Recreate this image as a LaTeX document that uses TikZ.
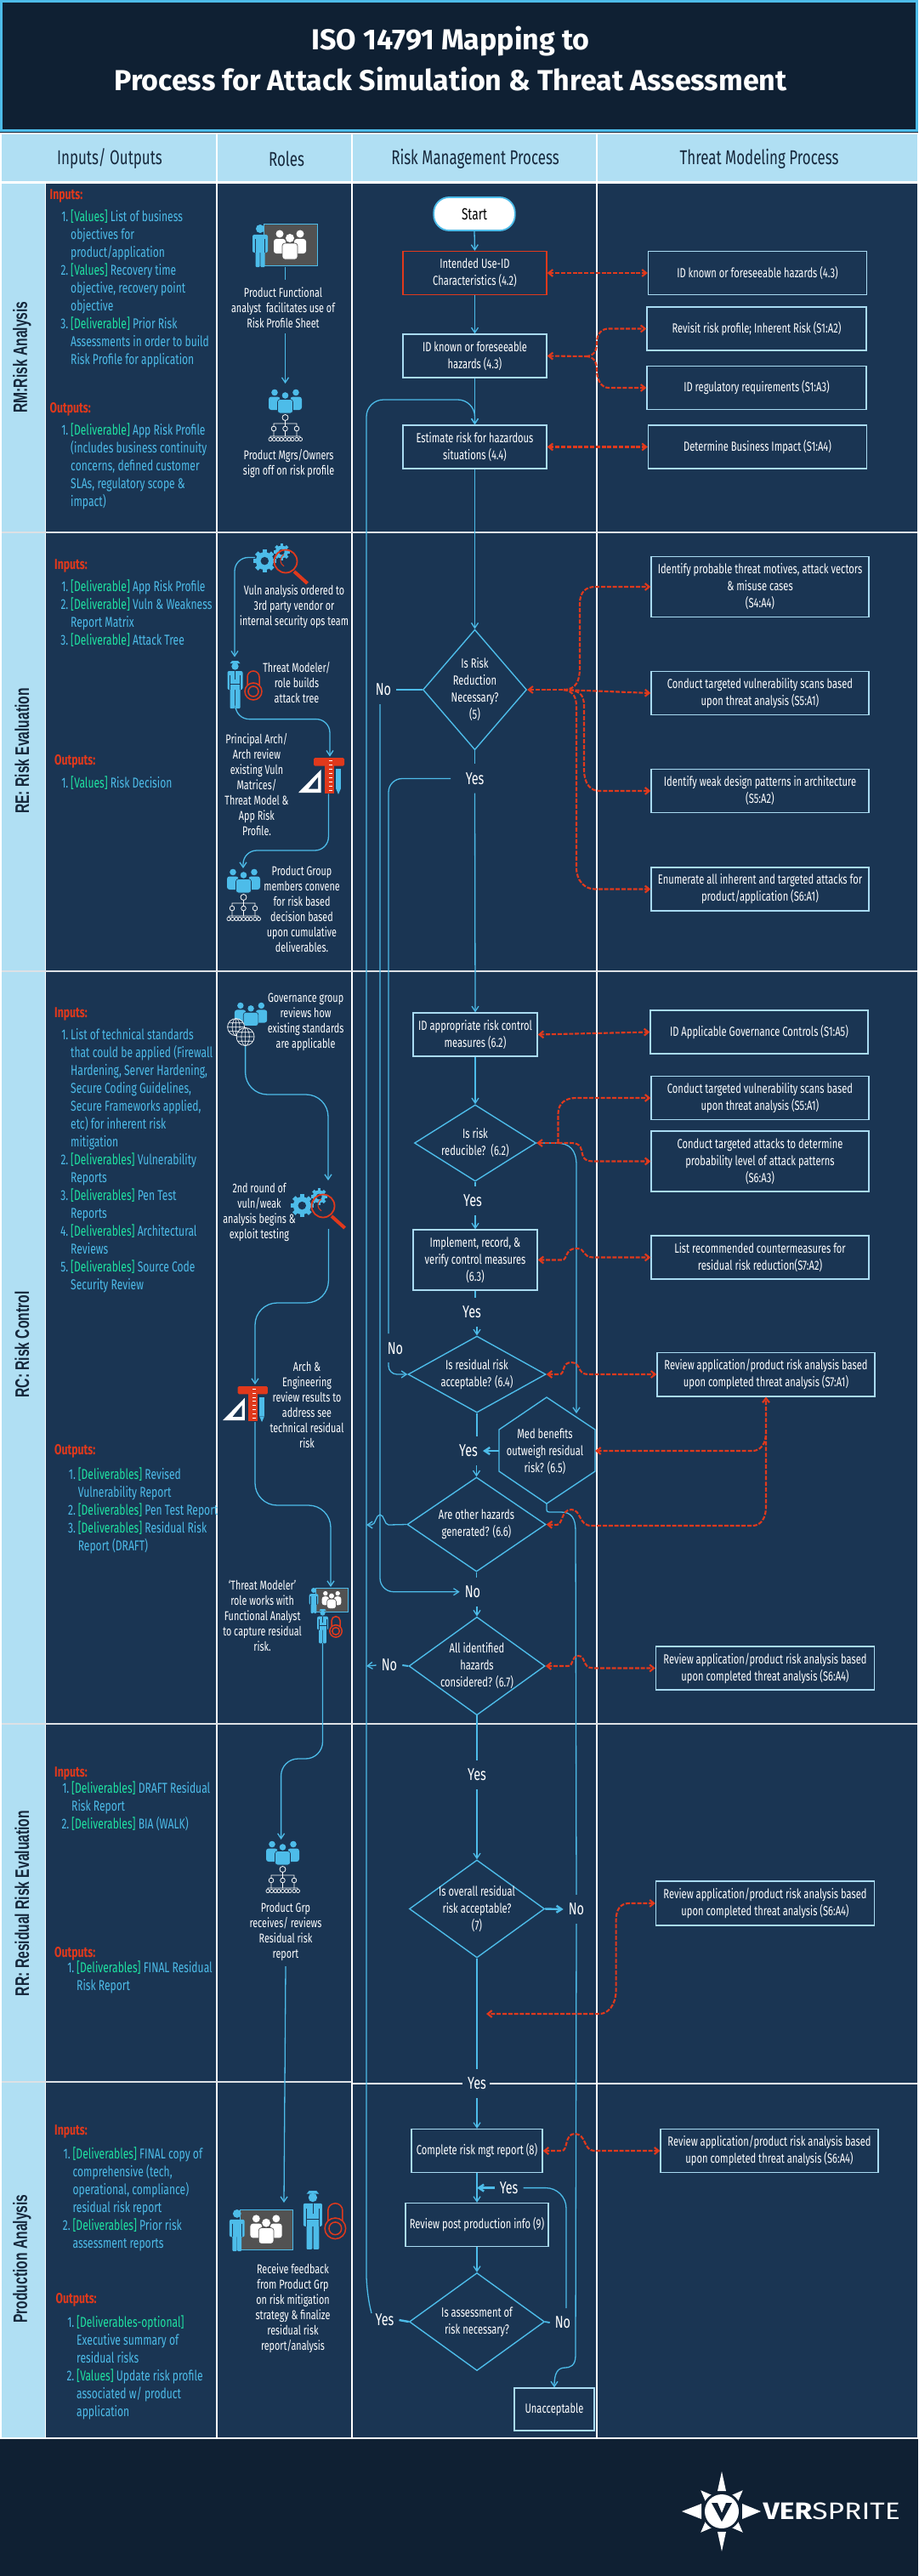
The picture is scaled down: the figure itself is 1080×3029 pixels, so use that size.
\documentclass[tikz,border=0pt]{standalone}
\usepackage{fontspec}
\setmainfont[FakeStretch=0.72]{Fira Sans}
\newfontfamily\rotf[FakeStretch=0.68]{Liberation Sans}
\newfontfamily\titlef[FakeStretch=1.0]{Fira Sans}
\newfontfamily\logof[FakeStretch=1.2]{Fira Sans}
\usetikzlibrary{arrows.meta,shapes.geometric}
\definecolor{bgd}{HTML}{1A3553}
\definecolor{dk}{HTML}{0F2033}
\definecolor{hdr}{HTML}{B0DFF3}
\definecolor{lb}{HTML}{4DBCE9}
\definecolor{bx}{HTML}{A9DBF2}
\definecolor{rd}{HTML}{E0391C}
\definecolor{gr}{HTML}{1FE3A2}
\definecolor{ink}{HTML}{16283C}
\newcommand\gn[1]{{\color{gr}#1}}
\newcommand\numl[1]{\llap{#1\,}}
\newcounter{tnc}
\newcommand\tx[4]{\stepcounter{tnc}\node[#1] (t\arabic{tnc}) at (#2,#3) {#4};}
\tikzset{
 pbox/.style={draw=bx,line width=1.3pt,align=center,text=white,inner sep=0pt,font=\fontsize{15.5}{20}\selectfont},
 dia/.style={diamond,draw=lb,line width=1.4pt,inner sep=0pt,aspect=1},
 dtext/.style={align=center,text=white,inner sep=0pt,font=\fontsize{15.5}{20}\selectfont},
 lab/.style={text=white,inner xsep=6pt,inner ysep=0pt,minimum height=34pt,font=\fontsize{20}{20}\selectfont},
 listt/.style={anchor=west,align=left,text=lb,inner sep=0pt,font=\fontsize{16.8}{21}\selectfont},
 hd/.style={text=rd,anchor=west,inner sep=0pt,font=\bfseries\fontsize{17}{21}\selectfont},
 rolet/.style={align=center,text=white,inner sep=0pt,font=\fontsize{15}{18}\selectfont},
 coltitle/.style={text=ink,inner sep=0pt,font=\fontsize{23.5}{24}\selectfont},
 rowtitle/.style={rotate=90,text=ink,inner sep=0pt,font=\rotf\bfseries\fontsize{23}{24}\selectfont},
 flown/.style={draw=lb,line width=1.3pt,rounded corners=16pt},
 flow/.style={flown,-{Straight Barb[length=6pt,width=8pt]}},
 flowt/.style={flow,line width=2.4pt},
 rdl/.style={draw=rd,line width=2.1pt,dash pattern=on 5pt off 1.8pt},
 rdb/.style={rdl,{Straight Barb[length=5pt,width=8pt]}-{Straight Barb[length=5pt,width=8pt]}},
 rde/.style={rdl,-{Straight Barb[length=5pt,width=8pt]}},
 rds/.style={rdl,{Straight Barb[length=5pt,width=8pt]}-},
}
\newcommand\personI[4]{\begin{scope}[shift={(#1,#2)},scale=#3]
 \fill[#4] (10,5) circle (5);
 \fill[#4,rounded corners=2pt] (1,12) rectangle (19,33);
 \fill[#4,rounded corners=1pt] (4.5,28) rectangle (9.7,50);
 \fill[#4,rounded corners=1pt] (10.3,28) rectangle (15.5,50);
 \draw[bgd,line width=.5pt] (4.5,17)--(4.5,33) (15.5,17)--(15.5,33);
\end{scope}}
\newcommand\presI[3]{\begin{scope}[shift={(#1,#2)},scale=#3]
 \filldraw[fill=black!68,draw=lb,line width=1pt] (14,0) rectangle (77,48);
 \fill[white] (33,11) circle (4.5) (57,11) circle (4.5) (45,16) circle (5);
 \fill[white,rounded corners=3pt] (26,17) rectangle (40,34) (50,17) rectangle (64,34);
 \filldraw[fill=white,draw=black!68,rounded corners=3pt,line width=.7pt] (36,22) rectangle (54,41);
\end{scope}\personI{#1}{#2}{#3}{lb}}
\newcommand\peopleI[3]{\begin{scope}[shift={(#1,#2)},scale=#3]
 \fill[lb] (8,3.5) circle (3.8) (33,3.5) circle (3.8) (20.5,7) circle (3.8);
 \fill[lb,rounded corners=3pt] (1,8.5) rectangle (14.5,24) (26.5,8.5) rectangle (40,24);
 \filldraw[fill=lb,draw=bgd,rounded corners=3pt,line width=.6pt] (11.5,11.5) rectangle (29.5,28);
\end{scope}}
\newcommand\orgI[3]{\peopleI{#1}{#2}{#3}\begin{scope}[shift={(#1,#2)},scale=#3]
 \draw[white,line width=.8pt] (20.5,33) circle (3.5) (20.5,36.5)--(20.5,40) (7,43)--(7,40)--(34,40)--(34,43) (20.5,40)--(20.5,43)
  (7,46) circle (2.8) (20.5,46) circle (2.8) (34,46) circle (2.8)
  (7,48.8)--(7,55) (20.5,48.8)--(20.5,55) (34,48.8)--(34,55)
  (3,56)--(3,55)--(38,55)--(38,56);
 \foreach \q in {3,7.5,12,16,20.5,25,29,34,38.5}{\draw[white,line width=.7pt] (\q,58.5) circle (2.1);}
\end{scope}}
\newcommand\gearI[3]{\begin{scope}[shift={(#1,#2)},scale=#3]
 \foreach \a in {0,45,90,135}{\fill[lb,rotate=\a] (-.24,-1.28) rectangle (.24,1.28);}
 \fill[lb] (0,0) circle (1);\fill[bgd] (0,0) circle (.45);
\end{scope}}
\newcommand\vulnI[2]{\begin{scope}[shift={(#1,#2)}]
 \gearI{13.3}{21.6}{10.5}\gearI{33.3}{11}{7.5}
 \draw[rd,line width=1.8pt] (38,22) circle (13.5);
 \draw[rd,line width=1pt] (36,14) arc[start angle=240,end angle=120,radius=8];
 \draw[rd,line width=4pt] (48,34)--(63.6,48);
\end{scope}}
\newcommand\copI[3]{\begin{scope}[shift={(#1,#2)},scale=#3]
 \fill[lb] (10.5,6.5) circle (4.2);
 \fill[lb] (4.5,3) -- (7,0) -- (14,0) -- (16.5,3) -- cycle;
 \fill[lb,rounded corners=2pt] (1.5,12) rectangle (19.5,34);
 \fill[lb,rounded corners=1pt] (4.5,30) rectangle (10,56) (11,30) rectangle (16.5,56);
 \draw[bgd,line width=.6pt] (10.5,12)--(10.5,22) (5,27)--(16,27) (4.5,17)--(4.5,34) (16.5,17)--(16.5,34);
 \draw[rd,line width=1.5pt] (32,36) circle (10) (32,36) circle (6) (25,29)--(25,19) arc[start angle=180,end angle=0,radius=7,y radius=-7] -- (39,29);
\end{scope}}
\newcommand\rulerI[3]{\begin{scope}[shift={(#1,#2)},scale=#3]
 \fill[rd,rounded corners=1.5pt] (18,0) rectangle (54,9.5);
 \fill[rd] (31,0) rectangle (42,42);
 \foreach \q in {3,8,13,18,23,28,33,38}{\draw[white,line width=.5pt] (36,\q)--(40,\q);}
 \fill[white] (0,41)--(26.5,41)--(26.5,14)--cycle;
 \fill[bgd] (12,36.5)--(23,36.5)--(23,23)--cycle;
 \fill[lb] (44,13) rectangle (50,36);\fill[lb] (44,36)--(47,43)--(50,36)--cycle;
\end{scope}}
\newcommand\globeI[3]{\begin{scope}[shift={(#1,#2)}]
 \draw[white,line width=.7pt,fill=bgd] (0,0) circle (#3);
 \draw[white,line width=.6pt] (0,0) ellipse ({#3*.45} and #3) (0,-#3)--(0,#3) (-#3,0)--(#3,0) ({-#3*.85},{-#3*.5})--({#3*.85},{-#3*.5}) ({-#3*.85},{#3*.5})--({#3*.85},{#3*.5});
\end{scope}}
\begin{document}
\begin{tikzpicture}[x=1pt,y=-1pt]
\useasboundingbox (0,0) rectangle (1080,3029);
% ---- ground
\fill[dk] (0,0) rectangle (1080,3029);
\filldraw[fill=dk,draw=lb,line width=3pt] (1.5,1.5) rectangle (1078.5,154);
\fill[white] (0,156) rectangle (1080,2868);
\fill[hdr] (2,158) rectangle (1079,213);
\fill[hdr] (2,216) rectangle (53,2866);
\fill[bgd] (54,216) rectangle (1079,2866);
\foreach \q in {255,414,702}{\draw[white,line width=1.8pt] (\q,158)--(\q,2866);}
\foreach \q in {626,1142,2027}{\draw[white!85!bgd,line width=2.4pt] (2,\q)--(1079,\q);}
\draw[white!85!bgd,line width=2.4pt] (2,2448)--(414,2448);
\draw[white,line width=2.4pt] (414,2450)--(544,2450) (576,2450)--(1079,2450);
% ---- titles
\node[inner sep=0pt,text=white,font=\titlef\bfseries\fontsize{34}{34}\selectfont] (title1) at (530,48) {ISO 14791 Mapping to};
\node[inner sep=0pt,text=white,font=\titlef\bfseries\fontsize{34}{34}\selectfont] (title2) at (530,93) {Process for Attack Simulation \& Threat Assessment};
\node[coltitle] (hd1) at (129,187) {Inputs/ Outputs};
\node[coltitle] (hd2) at (337,187) {Roles};
\node[coltitle] (hd3) at (559,187) {Risk Management Process};
\node[coltitle] (hd4) at (893,187) {Threat Modeling Process};
\node[rowtitle] (rw1) at (26,420) {RM:Risk Analysis};
\node[rowtitle] (rw2) at (26,883) {RE: Risk Evaluation};
\node[rowtitle] (rw3) at (26,1581) {RC: Risk Control};
\node[rowtitle] (rw4) at (26,2238) {RR: Residual Risk Evaluation};
\node[rowtitle] (rw5) at (26,2656) {Production Analysis};
% ---- inputs / outputs
\tx{hd}{58.5}{230}{Inputs:}
\tx{listt}{83}{339}{\numl{1.}\gn{[Values]} List of business\\objectives for\\product/application\\\numl{2.}\gn{[Values]} Recovery time\\objective, recovery point\\objective\\\numl{3.}\gn{[Deliverable]} Prior Risk\\Assessments in order to build\\Risk Profile for application}
\tx{hd}{58.5}{481.5}{Outputs:}
\tx{listt}{83}{548}{\numl{1.}\gn{[Deliverable]} App Risk Profile\\(includes business continuity\\concerns, defined customer\\SLAs, regulatory scope \&\\impact)}
\tx{hd}{64}{665.5}{Inputs:}
\tx{listt}{83}{721.5}{\numl{1.}\gn{[Deliverable]} App Risk Profile\\\numl{2.}\gn{[Deliverable]} Vuln \& Weakness\\Report Matrix\\\numl{3.}\gn{[Deliverable]} Attack Tree}
\tx{hd}{64}{895.5}{Outputs:}
\tx{listt}{83}{921}{\numl{1.}\gn{[Values]} Risk Decision}
\tx{hd}{64}{1192}{Inputs:}
\tx{listt}{83}{1365}{\numl{1.}List of technical standards\\that could be applied (Firewall\\Hardening, Server Hardening,\\Secure Coding Guidelines,\\Secure Frameworks applied,\\etc) for inherent risk\\mitigation\\\numl{2.}\gn{[Deliverables]} Vulnerability\\Reports\\\numl{3.}\gn{[Deliverables]} Pen Test\\Reports\\\numl{4.}\gn{[Deliverables]} Architectural\\Reviews\\\numl{5.}\gn{[Deliverables]} Source Code\\Security Review}
\tx{hd}{64}{1706}{Outputs:}
\tx{listt}{91.6}{1776}{\numl{1.}\gn{[Deliverables]} Revised\\Vulnerability Report\\\numl{2.}\gn{[Deliverables]} Pen Test Report\\\numl{3.}\gn{[Deliverables]} Residual Risk\\Report (DRAFT)}
\tx{hd}{64}{2085}{Inputs:}
\tx{listt}{84}{2124}{\numl{1.}\gn{[Deliverables]} DRAFT Residual\\Risk Report\\\numl{2.}\gn{[Deliverables]} BIA (WALK)}
\tx{hd}{64}{2297}{Outputs:}
\tx{listt}{90}{2324.5}{\numl{1.}\gn{[Deliverables]} FINAL Residual\\Risk Report}
\tx{hd}{64}{2506.5}{Inputs:}
\tx{listt}{85.4}{2585.5}{\numl{1.}\gn{[Deliverables]} FINAL copy of\\comprehensive (tech,\\operational, compliance)\\residual risk report\\\numl{2.}\gn{[Deliverables]} Prior risk\\assessment reports}
\tx{hd}{65.4}{2704.4}{Outputs:}
\tx{listt}{90}{2783.5}{\numl{1.}\gn{[Deliverables-optional]}\\Executive summary of\\residual risks\\\numl{2.}\gn{[Values]} Update risk profile\\associated w/ product\\application}
% ---- roles: icons
\presI{296}{264}{1}
\orgI{315}{458}{1}
\vulnI{298}{638}
\copI{266}{777}{1}
\rulerI{351}{891}{1}
\orgI{266}{1022}{1}
\peopleI{275}{1179}{.98}
\globeI{277.6}{1207.7}{10}
\globeI{288.6}{1219}{10.5}
\vulnI{342}{1396}
\rulerI{262}{1630}{.98}
\presI{363}{1867}{.6}
\copI{372}{1892}{.72}
\orgI{312}{2165}{1}
\presI{269}{2598}{.98}
\copI{355}{2576}{1.23}
% ---- roles: text
\tx{rolet}{333}{362}{Product Functional\\analyst\ \ facilitates use of\\Risk Profile Sheet}
\tx{rolet}{339.6}{545.5}{Product Mgrs/Owners\\sign off on risk profile}
\tx{rolet}{346}{713}{Vuln analysis ordered to\\3rd party vendor or\\internal security ops team}
\tx{rolet}{349}{803}{Threat Modeler/\\role builds\\attack tree}
\tx{rolet}{302}{923}{Principal Arch/\\Arch review\\existing Vuln\\Matrices/\\Threat Model \&\\App Risk\\Profile.}
\tx{rolet}{355}{1069}{Product Group\\members convene\\for risk based\\decision based\\upon cumulative\\deliverables.}
\tx{rolet}{359.6}{1202}{Governance group\\reviews how\\existing standards\\are applicable}
\tx{rolet}{305}{1425}{2nd round of\\vuln/weak\\analysis begins \&\\exploit testing}
\tx{rolet}{361}{1652}{Arch \&\\Engineering\\review results to\\address see\\technical residual\\risk}
\tx{rolet}{308.6}{1900}{`Threat Modeler'\\role works with\\Functional Analyst\\to capture residual\\risk.}
\tx{rolet}{336}{2271}{Product Grp\\receives/ reviews\\Residual risk\\report}
\tx{rolet}{344.5}{2714}{Receive feedback\\from Product Grp\\on risk mitigation\\strategy \& finalize\\residual risk\\report/analysis}
% ---- roles: connectors
\coordinate (ia1) at (335.5,314);\coordinate (ia2) at (335.5,328.5);
\coordinate (ib1) at (335.5,392);\coordinate (ib2) at (335.5,451);
\draw[flown] (ia1)--(ia2);
\draw[flow] (ib1)--(ib2);
\coordinate (g1) at (300,655.5);\coordinate (c1) at (276,772.6);
\draw[flow] (g1)--(276,655.5)--(c1);
\coordinate (c1b) at (277,833.5);\coordinate (r1) at (388,889.7);
\draw[flow] (c1b)--(277,845.6)--(388,845.6)--(r1);
\coordinate (r1b) at (386.4,933.4);\coordinate (o1) at (286,1021);
\draw[flow] (r1b)--(386.4,1000)--(286,1000)--(o1);
\coordinate (gv) at (288.6,1230);\coordinate (g2) at (386,1388);
\draw[flow,rounded corners=26pt] (gv)--(288.6,1287)--(386,1287)--(g2);
\coordinate (g2b) at (386.4,1445);\coordinate (r2) at (300,1628);
\draw[flow,rounded corners=26pt] (g2b)--(386.4,1532)--(300,1532)--(r2);
\coordinate (r2b) at (300,1672);\coordinate (pr) at (389,1866);
\draw[flow,rounded corners=26pt] (r2b)--(300,1770)--(389,1770)--(pr);
\coordinate (cb3) at (379.5,1932);\coordinate (o3) at (330.6,2163);
\draw[flow,rounded corners=20pt] (cb3)--(379.5,2068)--(330.6,2068)--(o3);
\coordinate (tb) at (336,2312);\coordinate (pb) at (334,2590);
\draw[flow] (tb)--(pb);
% ---- process nodes
\node[pbox,text=black,fill=white,draw=lb,line width=1.8pt,rounded corners=18pt,minimum width=95.5pt,minimum height=39pt,font=\fontsize{19}{20}\selectfont] (st) at (558,251.5) {Start};
\node[pbox,draw=rd,minimum width=169pt,minimum height=51pt] (b1) at (558.5,321) {Intended Use-ID\\Characteristics (4.2)};
\node[pbox,minimum width=169pt,minimum height=51pt] (b2) at (558.5,418.5) {ID known or foreseeable\\hazards (4.3)};
\node[pbox,minimum width=169pt,minimum height=51pt] (b3) at (558.5,525.5) {Estimate risk for hazardous\\situations (4.4)};
\node[pbox,minimum width=146pt,minimum height=51pt] (b4) at (559,1216.5) {ID appropriate risk control\\measures (6.2)};
\node[pbox,minimum width=146pt,minimum height=71pt] (b5) at (559,1481.5) {Implement, record, \&\\verify control measures\\(6.3)};
\node[pbox,minimum width=154pt,minimum height=51pt] (b6) at (561,2529) {Complete risk mgt report (8)};
\node[pbox,minimum width=168pt,minimum height=51pt] (b7) at (561,2616) {Review post production info (9)};
\node[pbox,minimum width=94pt,minimum height=50pt] (b8) at (652,2833) {Unacceptable};
\node[dia,minimum width=122pt,minimum height=141.5pt] (d5) at (558.5,811) {};
\node[dtext] (d5t) at (d5.center) {Is Risk\\Reduction\\Necessary?\\(5)};
\node[dia,minimum width=143pt,minimum height=90pt] (d62) at (559,1344) {};
\node[dtext] (d62t) at (d62.center) {Is risk\\reducible?\ \ (6.2)};
\node[dia,minimum width=162pt,minimum height=90pt] (d64) at (561,1616) {};
\node[dtext] (d64t) at (d64.center) {Is residual risk\\acceptable? (6.4)};
\node[dia,minimum width=163pt,minimum height=111pt] (d66) at (560.5,1792.5) {};
\node[dtext] (d66t) at (d66.center) {Are other hazards\\generated? (6.6)};
\node[dia,minimum width=160pt,minimum height=115.5pt] (d67) at (561,1959) {};
\node[dtext] (d67t) at (d67.center) {All identified\\hazards\\considered? (6.7)};
\node[dia,minimum width=159pt,minimum height=115pt] (d7) at (561,2244.5) {};
\node[dtext] (d7t) at (d7.center) {Is overall residual\\risk acceptable?\\(7)};
\node[dia,minimum width=159pt,minimum height=115pt] (d9) at (561,2730) {};
\node[dtext] (d9t) at (d9.center) {Is assessment of\\risk necessary?};
% hexagon
\coordinate (hexN) at (643,1643);\coordinate (hexS) at (643,1768);
\coordinate (hexW) at (587,1706);\coordinate (hexE) at (700,1706);
\draw[lb,line width=1.4pt] (hexN)--(700,1681)--(hexE)--(700,1730)--(hexS)--(587,1730)--(hexW)--(587,1681)--cycle;
\node[dtext] (hext) at (641,1707) {Med benefits\\outweigh residual\\risk? (6.5)};
% threat boxes
\node[pbox,minimum width=257pt,minimum height=51pt] (a1) at (891,321) {ID known or foreseeable hazards (4.3)};
\node[pbox,minimum width=258pt,minimum height=51pt] (a2) at (890,386.5) {Revisit risk profile; Inherent Risk (S1:A2)};
\node[pbox,minimum width=258pt,minimum height=51pt] (a3) at (890,456) {ID regulatory requirements (S1:A3)};
\node[pbox,minimum width=257pt,minimum height=51pt] (a4) at (891,525.5) {Determine Business Impact (S1:A4)};
\node[pbox,minimum width=256pt,minimum height=71pt] (e1) at (894,690) {Identify probable threat motives, attack vectors\\\& misuse cases\\(S4:A4)};
\node[pbox,minimum width=256pt,minimum height=51pt] (e2) at (894,815) {Conduct targeted vulnerability scans based\\upon threat analysis (S5:A1)};
\node[pbox,minimum width=256pt,minimum height=51pt] (e3) at (894,930) {Identify weak design patterns in architecture\\(S5:A2)};
\node[pbox,minimum width=256pt,minimum height=51pt] (e4) at (894,1045.5) {Enumerate all inherent and targeted attacks for\\product/application (S6:A1)};
\node[pbox,minimum width=256pt,minimum height=51pt] (i1) at (893,1213.5) {ID Applicable Governance Controls (S1:A5)};
\node[pbox,minimum width=256pt,minimum height=51pt] (i2) at (894,1291) {Conduct targeted vulnerability scans based\\upon threat analysis (S5:A1)};
\node[pbox,minimum width=256pt,minimum height=71pt] (i3) at (894,1365.5) {Conduct targeted attacks to determine\\probability level of attack patterns\\(S6:A3)};
\node[pbox,minimum width=256pt,minimum height=51pt] (i4) at (894,1478.5) {List recommended countermeasures for\\residual risk reduction(S7:A2)};
\node[pbox,minimum width=256pt,minimum height=51.7pt] (m) at (901,1616) {Review application/product risk analysis based\\upon completed threat analysis (S7:A1)};
\node[pbox,minimum width=257pt,minimum height=51pt] (n) at (900,1961.5) {Review application/product risk analysis based\\upon completed threat analysis (S6:A4)};
\node[pbox,minimum width=257pt,minimum height=52pt] (o) at (900,2238) {Review application/product risk analysis based\\upon completed threat analysis (S6:A4)};
\node[pbox,minimum width=256pt,minimum height=51pt] (p) at (905,2529) {Review application/product risk analysis based\\upon completed threat analysis (S6:A4)};
% labels
\node[lab] (no5) at (451,811) {No};
\node[lab] (y5) at (558.6,915.5) {Yes};
\node[lab] (y63) at (556,1412) {Yes};
\node[lab] (y64) at (555,1543) {Yes};
\node[lab] (no64) at (465,1586) {No};
\node[lab] (y65) at (551,1706) {Yes};
\node[lab] (no66) at (556,1871.7) {No};
\node[lab] (no67) at (458,1958) {No};
\node[lab] (y7) at (561,2087) {Yes};
\node[lab] (no7) at (678,2245) {No};
\node[lab] (y8) at (561,2450) {Yes};
\node[lab] (yb) at (598.6,2572.6) {Yes};
\node[lab] (yl) at (452.5,2728) {Yes};
\node[lab] (no9) at (662,2731) {No};
% main flow
\draw[flow] (st.south)--(b1.north);
\draw[flow] (b1.south)--(b2.north);
\draw[flow] (b2.south)--(b3.north);
\draw[flow] (b3.south)--(d5.north);
\draw[flown] (d5.south)--(d5.south |- y5.north);
\draw[flow] (d5.south |- y5.south)--(b4.north);
\draw[flow] (b4.south)--(d62.north);
\draw[flown] (d62.south)--(d62.south |- y63.north);
\draw[flow] (d62.south |- y63.south)--(b5.north);
\draw[flown] (b5.south)--(b5.south |- y64.north);
\draw[flow] (d64.north |- y64.south)--(d64.north);
\draw[flown] (d64.south)--(d64.south |- y65.north);
\draw[flow] (d66.north |- y65.south)--(d66.north);
\draw[flowt] (hexW)--(y65.east);
\draw[flown] (d66.south)--(d66.south |- no66.north);
\draw[flow] (d67.north |- no66.south)--(d67.north);
\draw[flown] (d67.south)--(y7.north);
\draw[flow] (y7.south)--(d7.north);
\draw[flown] (d7.south)--(y8.north);
\draw[flow] (y8.south)--(b6.north);
\draw[flow] (b6.south)--(b7.north);
\draw[flow] (b7.south)--(d9.north);
% No / Yes branches
\draw[flown,line width=2.4pt] (d5.west)--(no5.east);
\coordinate (n5t) at (447,828);
\draw[flow] (n5t)--(447,1871.7)--(no66.west);
\coordinate (y5t) at (530,915.5);\coordinate (y5e) at (457,1568);
\draw[flown] (y5t)--(457,915.5)--(y5e);
\coordinate (n64t) at (457,1602);
\draw[flow,rounded corners=10pt] (n64t)--(457,1616)--(d64.west);
\coordinate (ret) at (437,2720);
\draw[flow,rounded corners=20pt] (ret)--(431,2695)--(431,470)--(558.5,470)--(b3.north);
\draw[flowt] (d7.east)--(no7.west);
\coordinate (jn) at (431,1793);
\draw[flow,rounded corners=0pt] (d66.west)--(457,1793) .. controls (452,1793) and (452,1781) .. (447,1781) .. controls (442,1781) and (442,1793) .. (437,1793)--(jn);
\draw[flown,line width=2pt] (d67.west)--(no67.east);
\coordinate (jn2) at (431,1959);
\draw[flow] (no67.west)--(jn2);
\coordinate (ha) at (678,1662);
\draw[flow,rounded corners=0pt] (d62.east)--(654,1344) .. controls (670,1344) and (678,1352) .. (678,1370)--(ha);
\draw[flown,rounded corners=0pt] (hexS)--(643,1773) .. controls (643,1778) and (643,1778) .. (650,1778)--(660,1778) .. controls (672,1778) and (677,1785) .. (677,1800)--(no7.north);
\draw[flow,rounded corners=0pt] (no7.south)--(677,2770) .. controls (677,2782) and (670,2784) .. (665,2784) .. controls (656,2784) and (652,2790) .. (b8.north);
\coordinate (ym) at (561,2572.6);
\draw[flowt] (yb.west)--(ym);
\draw[flown,rounded corners=24pt] (yb.east)--(666,2572.6)--(666,2714);
\draw[flown,line width=1.8pt] (d9.east)--(no9.west);
\draw[flown,line width=2.4pt] (d9.west)--(yl.east);
% red connectors
\draw[rdb] (b1.east)--(a1.west);
\draw[rdb] (b3.east)--(a4.west);
\coordinate (r2j) at (689,419);
\draw[rds] (b2.east)--(r2j);
\draw[rde] (r2j) .. controls (700,419) and (702,410) .. (702,403) .. controls (702,392) and (708,386.5) .. (716,386.5)--(a2.west);
\draw[rde] (r2j) .. controls (700,419) and (702,428) .. (702,435) .. controls (702,448) and (708,456) .. (716,456)--(a3.west);
\coordinate (r5) at (663,811);
\draw[rds] (d5.east)--(r5);
\draw[rde] (r5) .. controls (678,811) and (682,800) .. (682,785)--(682,710) .. controls (682,695) and (690,690) .. (700,690)--(e1.west);
\draw[rde] (r5)--(e2.west);
\draw[rde] (r5) .. controls (680,811) and (687,815) .. (687,830)--(687,905) .. controls (687,922) and (695,930) .. (705,930)--(e3.west);
\draw[rde] (r5) .. controls (675,813) and (678,820) .. (678,832)--(678,1020) .. controls (678,1036) and (688,1045.5) .. (700,1045.5)--(e4.west);
\draw[rdb] (b4.east)--(i1.west);
\coordinate (r62) at (656.5,1344);
\draw[rds] (d62.east)--(r62);
\draw[rde] (r62)--(656.5,1310) .. controls (656.5,1297) and (665,1291) .. (678,1291)--(i2.west);
\draw[rde] (r62)--(672,1344) .. controls (684,1344) and (684,1352) .. (685,1357) .. controls (686,1363) and (690,1365.5) .. (698,1365.5)--(i3.west);
\draw[rdb] (b5.east)--(661,1481.5) .. controls (668,1481.5) and (664,1468) .. (678,1468) .. controls (690,1468) and (684,1478.5) .. (698,1478.5)--(i4.west);
\draw[rdb] (d64.east)--(658,1616) .. controls (665,1616) and (660,1602) .. (672,1602) .. controls (684,1602) and (678,1616) .. (692,1616)--(m.west);
\coordinate (ms) at (m.south);
\draw[rdb] (hexE)--(885,1706) .. controls (895,1706) and (901,1697) .. (901,1685)--(ms);
\coordinate (mj) at (901,1685);
\draw[rds] (d66.east)--(655,1793) .. controls (662,1793) and (660,1775) .. (672,1775) .. controls (684,1775) and (680,1794) .. (696,1794)--(885,1794) .. controls (895,1794) and (901,1785) .. (901,1772)--(mj);
\draw[rdb] (d67.east)--(668,1959) .. controls (675,1959) and (672,1947) .. (680,1947) .. controls (690,1947) and (684,1961.5) .. (698,1961.5)--(n.west);
\coordinate (r7) at (572,2368);
\draw[rdb] (o.west)--(740,2238) .. controls (730,2238) and (724.6,2245) .. (724.6,2258)--(724.6,2340) .. controls (724.6,2358) and (715,2368) .. (705,2368)--(r7);
\draw[rdb] (b6.east)--(661,2529) .. controls (668,2529) and (664,2509) .. (676,2509) .. controls (690,2509) and (686,2529) .. (699,2529)--(p.west);
% ---- logo
\begin{scope}[shift={(849,2953)}]
 \fill[white] (0,-47)--(5,-24)--(-5,-24)--cycle (0,47)--(5,24)--(-5,24)--cycle;
 \fill[white] (-47,0)--(-24,-9)--(-24,9)--cycle (46,0)--(24,-9)--(24,9)--cycle;
 \foreach \a in {45,135,225,315}{\fill[white,rotate=\a] (0,-35)--(6,-20)--(-6,-20)--cycle;}
 \fill[dk] (0,0) circle (23);
 \fill[white] (0,0) circle (20);
 \fill[dk] (-12,-10)--(-5,-10)--(0,2)--(5,-10)--(12,-10)--(0,12)--cycle;
\end{scope}
\node[anchor=west,inner sep=0pt,text=white,font=\logof\fontsize{28}{30}\selectfont] (logo) at (897.5,2953) {\textbf{VER}SPRITE};
\end{tikzpicture}
\end{document}
